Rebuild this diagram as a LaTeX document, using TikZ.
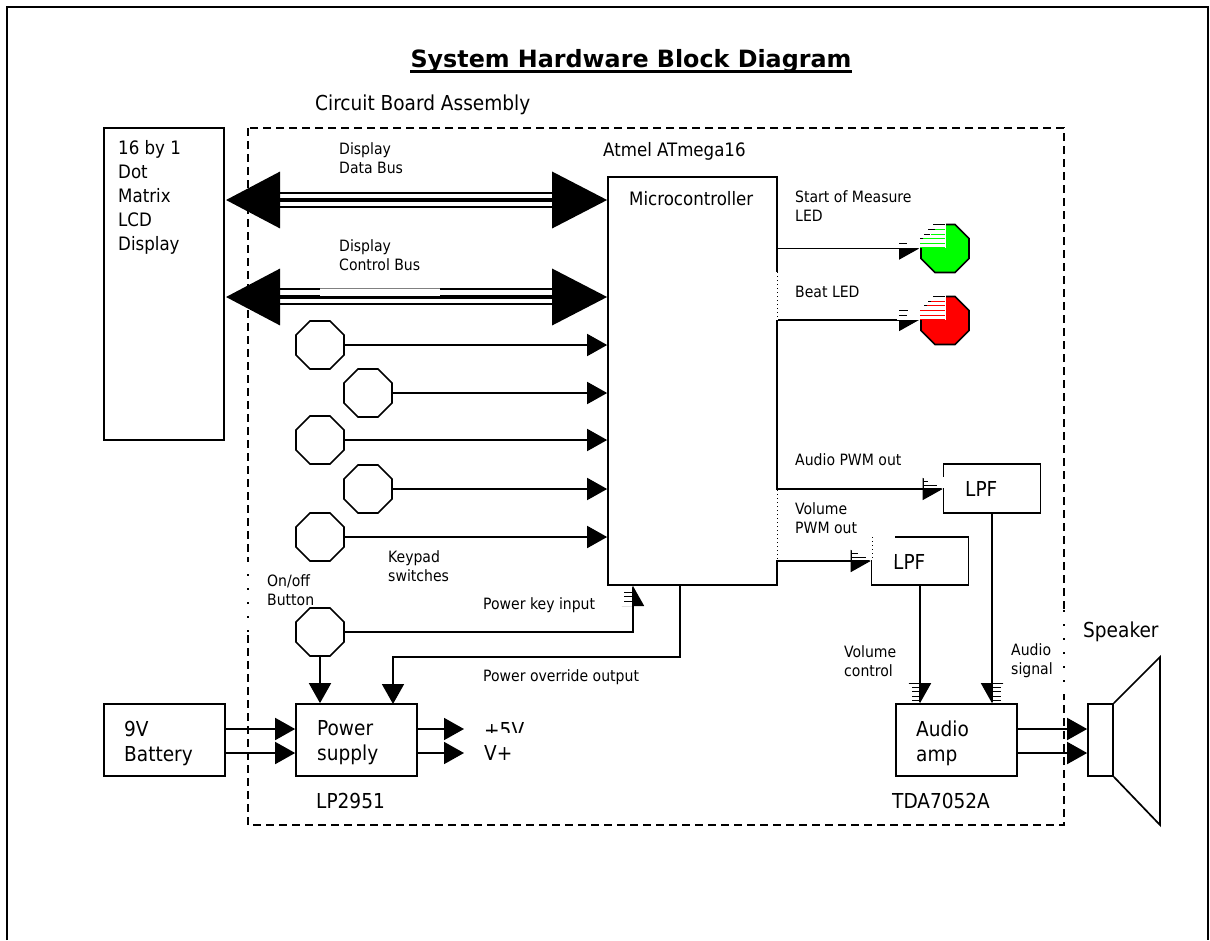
\documentclass[tikz,border=0pt]{standalone}
\usepackage{fontspec}
\setmainfont{DejaVu Sans}
\newfontfamily\condfont{DejaVu Sans Condensed}
\usetikzlibrary{arrows.meta,shapes.geometric}
\tikzset{
  block/.style={draw, line width=1.7pt, inner sep=0pt},
  octa/.style={draw, line width=1.7pt, regular polygon, regular polygon sides=8, minimum size=52pt, inner sep=0pt},
  wire/.style={line width=1.7pt, -{Triangle[length=20pt,width=22pt]}},
  busline/.style={line width=2.5pt},
  bushead/.style={line width=3.5pt, {Triangle[length=54pt,width=56pt]}-{Triangle[length=55pt,width=56pt]}},
  small/.style={anchor=west, align=left, inner sep=0pt, font=\condfont\fontsize{15.6}{19}\selectfont},
  medium/.style={anchor=west, align=left, inner sep=0pt, font=\condfont\fontsize{18.5}{24}\selectfont},
  large/.style={anchor=west, align=left, inner sep=0pt, font=\condfont\fontsize{20.6}{25}\selectfont},
  mask/.style={fill=white, draw=none},
  dots/.style={black, line width=0.8pt, dash pattern=on 1pt off 3pt},
  ticks/.style={black, line width=1.4pt, dash pattern=on 2pt off 12pt},
}
\begin{document}
\begin{tikzpicture}[x=1pt, y=-1pt]
  \useasboundingbox (0,0) rectangle (1210,940);
  % page frame
  \draw[line width=2pt] (7,940) -- (7,7) -- (1208,7) -- (1208,940);
  \node[anchor=center, inner sep=0pt, font=\bfseries\fontsize{23.8}{28}\selectfont] (title) at (631,61.5) {System Hardware Block Diagram};
  \draw[line width=2.6pt] ([yshift=-3.5pt]title.base west) -- ([yshift=-3.5pt]title.base east);
  \node[large] (boardlabel) at (315,105) {Circuit Board Assembly};
  \draw[line width=1.7pt, dash pattern=on 8pt off 5pt] (248,128) rectangle (1064,825);

  % blocks
  \node[block, minimum width=120pt, minimum height=312pt] (lcd) at (164,284) {};
  \node[block, minimum width=169pt, minimum height=408pt] (micro) at (692.5,381) {};
  \node[block, minimum width=121pt, minimum height=72pt] (battery) at (164.5,740) {};
  \node[block, minimum width=121pt, minimum height=72pt] (power) at (356.5,740) {};
  \node[block, minimum width=121pt, minimum height=72pt] (amp) at (956.5,740) {};
  \node[block, minimum width=97pt, minimum height=49pt] (lpfa) at (992,488.5) {};
  \node[block, minimum width=97pt, minimum height=48pt] (lpfb) at (920,561) {};
  \node[block, minimum width=25pt, minimum height=72pt] (cone) at (1100.5,740) {};
  \draw[line width=1.7pt] (cone.north east) -- (1160,657) -- (1160,825) -- (cone.south east);

  % switches and lamps
  \node[octa] (keya) at (320,345) {};
  \node[octa] (keyb) at (368,393) {};
  \node[octa] (keyc) at (320,440) {};
  \node[octa] (keyd) at (368,489) {};
  \node[octa] (keye) at (320,537) {};
  \node[octa] (onoff) at (320,632) {};
  \node[octa, fill=green] (ledgreen) at (945,248.5) {};
  \node[octa, fill=red] (ledred) at (945,320.5) {};

  % buses
  \coordinate (datbus) at (226,200);
  \coordinate (ctlbus) at (226,297);
  \draw[bushead] (datbus) -- (datbus -| micro.west);
  \draw[bushead] (ctlbus) -- (ctlbus -| micro.west);
  \foreach \y in {193,207} \draw[busline] (270,\y) -- (560,\y);
  \foreach \y in {289,304} \draw[busline] (270,\y) -- (560,\y);
  \fill[mask] (320,288) rectangle (440,296);
  \draw[gray, line width=0.7pt] (320,288) -- (440,288);

  % connectors
  \foreach \key in {keya,keyb,keyc,keyd,keye}
    \draw[wire] (\key.east) -- (\key.east -| micro.west);
  \draw[wire] (onoff.south) -- (onoff.south |- power.north);
  \draw[wire] (onoff.east) -- (633,632) -- (633,586);
  \draw[wire] (680,585) -- (680,657) -- (393,657) -- (393,704);
  \draw[wire] (battery.east |- 0,729) -- (power.west |- 0,729);
  \draw[wire] (battery.east |- 0,753) -- (power.west |- 0,753);
  \draw[wire] (power.east |- 0,729) -- (464,729);
  \draw[wire] (power.east |- 0,753) -- (464,753);
  \draw[wire] (amp.east |- 0,729) -- (cone.west |- 0,729);
  \draw[wire] (amp.east |- 0,753) -- (cone.west |- 0,753);
  \draw[wire, line width=1.2pt] (micro.east |- 0,248.6) -- (919,248.6);
  \draw[wire] (micro.east |- 0,320) -- (919,320);
  \draw[wire, line width=1.2pt] (micro.east |- 0,489) -- (lpfa.west |- 0,489);
  \draw[wire] (micro.east |- 0,561) -- (lpfb.west |- 0,561);
  \draw[wire] (lpfb.south) -- (lpfb.south |- amp.north);
  \draw[wire] (lpfa.south) -- (lpfa.south |- amp.north);

  % texts
  \node[medium] (lcdtext) at (118,197) {16 by 1\\Dot\\Matrix\\LCD\\Display};
  \node[medium] (chipname) at (603,151) {Atmel ATmega16};
  \node[medium] (chiptext) at (629,199) {Microcontroller};
  \node[small] (datatext) at (339,158) {Display\\Data Bus};
  \node[small] (ctltext) at (339,255) {Display\\Control Bus};
  \node[small] (keytext) at (388,566) {Keypad\\switches};
  \node[small] (btntext) at (267,590) {On/off\\Button};
  \node[small] (inputtext) at (483,605) {Power key input};
  \node[small] (outputtext) at (483,677) {Power override output};
  \node[small] (starttext) at (795,206) {Start of Measure\\LED};
  \node[small] (beattext) at (795,292) {Beat LED};
  \node[small] (pwmatext) at (795,460) {Audio PWM out};
  \node[small] (pwmvtext) at (795,518) {Volume\\PWM out};
  \node[small] (voltext) at (844,661) {Volume\\control};
  \node[small] (sigtext) at (1011,661) {Audio\\signal};
  \node[large] (battext) at (124,743) {9V\\Battery};
  \node[large] (powtext) at (317,743) {Power\\supply};
  \node[large] (amptext) at (916,743) {Audio\\amp};
  \node[large] (lpfatext) at (965,489) {LPF};
  \node[large] (lpfbtext) at (893,562) {LPF};
  \node[large] (plustext) at (484,730) {+5V};
  \node[large] (vplustext) at (484,753) {V+};
  \node[large] (regname) at (316,801) {LP2951};
  \node[large] (ampname) at (892,801) {TDA7052A};
  \node[large] (spktext) at (1083,632) {Speaker};

  % damaged areas
  \fill[mask] (480,733) rectangle (530,745);
  \fill[mask] (897,222) rectangle (945.5,248);
  \fill[mask] (897,294) rectangle (945.5,320);
  \foreach \y/\a in {229/935,234/931,238/920,243/920,247/920}
    \draw[line width=0.7pt, green] (\a,\y) -- (945,\y);
  \foreach \y/\a in {301/931,305/926,310/920,315/920,319/920}
    \draw[line width=0.7pt, red] (\a,\y) -- (945,\y);
  \foreach \y/\a/\b in {224/933/945,229/928/935,234/924/930,238/920/923,243/899/907,296/933/945,301/928/931,305/924/927,310/899/908,315/899/907}
    \draw[line width=0.7pt] (\a,\y) -- (\b,\y);
  \fill[mask] (924,477) rectangle (944,488);
  \fill[mask] (852,535) rectangle (895,560);
  \foreach \y/\a/\b in {481/923/928,485/923/937,553/852/858,557/852/866}
    \draw[line width=0.7pt] (\a,\y) -- (\b,\y);
  \fill[mask] (908,684) rectangle (919,703);
  \fill[mask] (993,684) rectangle (1005,703);
  \fill[mask] (621,586) rectangle (632,606);
  \foreach \y in {687,691,696,700} {
    \draw[line width=0.7pt] (912,\y) -- (919,\y);
    \draw[line width=0.7pt] (993,\y) -- (1001,\y);
  }
  \foreach \y in {592,596,601}
    \draw[line width=0.7pt] (624,\y) -- (632,\y);
  \foreach \xa/\ya/\xb/\yb in {777/272/777/320,777/490/777/560,872/537/872/560} {
    \draw[white, line width=2.5pt] (\xa,\ya) -- (\xb,\yb);
    \draw[dots] (\xa,\ya) -- (\xb,\yb);
  }
  \foreach \xa/\ya/\xb/\yb in {248/560/248/635,1064/610/1064/695} {
    \draw[white, line width=2.5pt] (\xa,\ya) -- (\xb,\yb);
    \draw[ticks] (\xa,\ya) -- (\xb,\yb);
  }
\end{tikzpicture}
\end{document}
